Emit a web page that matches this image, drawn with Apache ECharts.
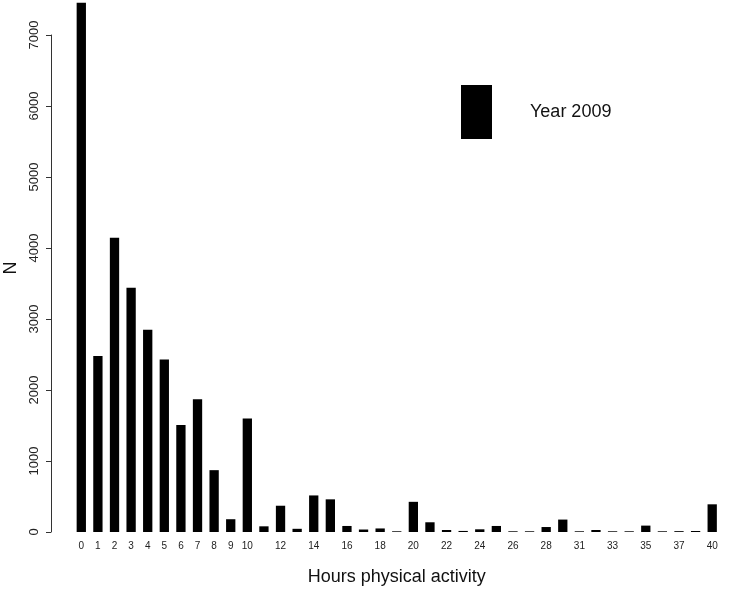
<!DOCTYPE html>
<html>
<head>
<meta charset="utf-8">
<script src="https://cdn.jsdelivr.net/npm/echarts@6/dist/echarts.min.js"></script>
<style>html,body{margin:0;padding:0;background:#fff}#c{width:747px;height:591px}</style>
</head>
<body>
<div id="c"></div>
<script>
var categories = ['0','1','2','3','4','5','6','7','8','9','10','11','12','13','14','15','16','17','18','19','20','21','22','23','24','25','26','27','28','30','31','32','33','34','35','36','37','38','40'];
var values = [7455,2480,4145,3440,2850,2430,1506,1869,871,180,1600,80,370,45,515,460,85,35,50,10,425,137,28,15,38,85,10,10,70,175,10,28,10,10,90,10,12,14,390];
var shownLabels = ['0','1','2','3','4','5','6','7','8','9','10','12','14','16','18','20','22','24','26','28','31','33','35','37','40'];
var yTicks = [0,1000,2000,3000,4000,5000,6000,7000];
var seriesName = 'Year 2009';

var chart = echarts.init(document.getElementById('c'));
chart.setOption({
  animation: false,
  backgroundColor: '#fff',
  textStyle: {fontFamily: 'Liberation Sans, Arial, sans-serif'},
  grid: {left: 73, right: 26.5, top: 35, bottom: 58.7},
  legend: {
    data: [{name: seriesName, icon: 'rect'}],
    left: 461, top: 85, padding: 0,
    itemWidth: 31, itemHeight: 54,
    selectedMode: false,
    textStyle: {fontSize: 18, color: '#111', padding: [0, 0, 0, 33], fontFamily: 'Liberation Sans, Arial, sans-serif'}
  },
  xAxis: {
    type: 'category',
    data: categories,
    axisLine: {show: false},
    axisTick: {show: false},
    axisLabel: {
      interval: function (i, v) { return shownLabels.indexOf(v) >= 0; },
      fontSize: 10, color: '#222', margin: 9,
      fontFamily: 'Liberation Sans, Arial, sans-serif'
    },
    name: 'Hours physical activity',
    nameLocation: 'middle',
    nameGap: 36,
    nameTextStyle: {fontSize: 18, color: '#111', fontFamily: 'Liberation Sans, Arial, sans-serif'}
  },
  yAxis: {
    type: 'value',
    min: yTicks[0], max: yTicks[yTicks.length - 1], interval: 1000,
    offset: 22,
    axisLine: {show: true, lineStyle: {color: '#333', width: 1}},
    axisTick: {show: true, length: 5, lineStyle: {color: '#333'}},
    splitLine: {show: false},
    axisLabel: {rotate: 90, fontSize: 13, color: '#222', margin: 10,
      formatter: function (v) { return String(v); },
      fontFamily: 'Liberation Sans, Arial, sans-serif'}
  },
  graphic: [{
    type: 'text', x: 11, y: 268, rotation: Math.PI / 2,
    style: {text: 'N', fontSize: 18, fill: '#111', textAlign: 'center', textVerticalAlign: 'middle',
      fontFamily: 'Liberation Sans, Arial, sans-serif'}
  }],
  series: [{
    name: seriesName,
    type: 'bar',
    data: values,
    barWidth: 9.3,
    clip: false,
    itemStyle: {color: '#000'}
  }]
});
</script>
</body>
</html>
